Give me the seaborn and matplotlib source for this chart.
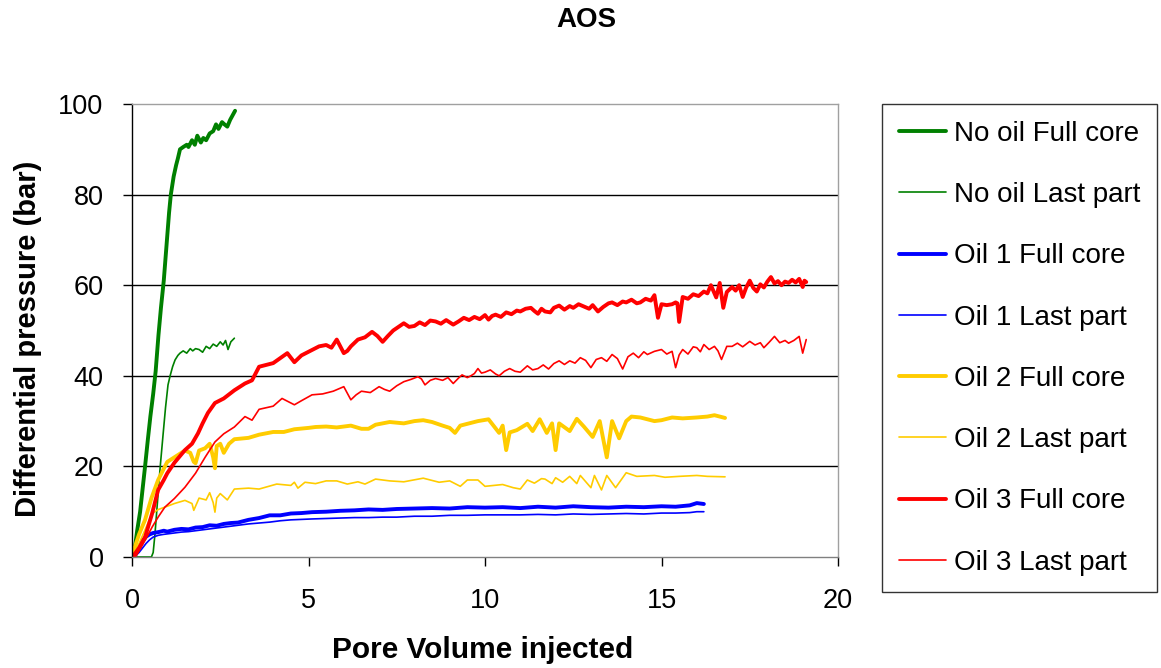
import matplotlib
matplotlib.use("Agg")
import matplotlib.pyplot as plt
import seaborn as sns
import pandas as pd

# ----------- DATA --------------------------------------------

# No oil, full core / last part
no_oil_full_x = [0, 0.08, 0.15, 0.23, 0.3, 0.37, 0.45, 0.52, 0.6, 0.67, 0.75, 0.82, 0.9, 0.97,
                 1.05, 1.1, 1.18, 1.25, 1.3, 1.36, 1.45, 1.55, 1.6, 1.7, 1.78, 1.85, 1.95, 2.02,
                 2.1, 2.2, 2.3, 2.38, 2.45, 2.55, 2.62, 2.7, 2.78, 2.85, 2.92]
no_oil_full_y = [0, 2, 6, 10, 15, 20, 26, 31, 36, 41, 49, 55, 61, 68,
                 76, 80, 84, 86.5, 88, 90, 90.5, 91, 90.5, 92, 91, 93, 91.5, 92.5,
                 92, 93.5, 94, 95.5, 94.5, 96, 95.5, 95, 96.5, 97.5, 98.5]

no_oil_last_x = [0, 0.2, 0.4, 0.55, 0.6, 0.65, 0.72, 0.8, 0.88, 0.95, 1.02, 1.08, 1.15, 1.22,
                 1.3, 1.36, 1.45, 1.55, 1.65, 1.72, 1.8, 1.9, 2.0, 2.1, 2.2, 2.3, 2.4, 2.5,
                 2.58, 2.65, 2.72, 2.8, 2.9]
no_oil_last_y = [0, 0, 0, 0, 1, 5, 12, 20, 27, 33, 38, 40, 42, 43.5,
                 44.5, 45, 45.5, 45, 46, 45.5, 46, 45.8, 45.2, 46.5, 46, 47, 46.5, 47.5,
                 46.8, 47.8, 45.8, 47.5, 48.3]

# Oil 1
oil1_x = [0, 0.1, 0.2, 0.3, 0.4, 0.5, 0.6, 0.75, 0.9, 1.0, 1.2, 1.4, 1.6, 1.8, 2.0, 2.2,
          2.4, 2.6, 2.8, 3.0, 3.3, 3.6, 3.9, 4.2, 4.5, 4.8, 5.1, 5.5, 5.9, 6.3, 6.7, 7.1,
          7.5, 8.0, 8.5, 9.0, 9.5, 10.0, 10.5, 11.0, 11.5, 12.0, 12.5, 13.0, 13.5, 14.0,
          14.5, 15.0, 15.4, 15.8, 16.0, 16.2]
oil1_full_y = [0, 0.5, 2, 3.5, 4.5, 5, 5.3, 5.5, 5.8, 5.6, 6, 6.2, 6.1, 6.5, 6.6, 7,
               6.9, 7.3, 7.5, 7.6, 8.2, 8.6, 9.2, 9.2, 9.6, 9.7, 9.9, 10, 10.2, 10.3, 10.5, 10.4,
               10.6, 10.7, 10.8, 10.7, 11, 10.9, 11, 10.8, 11.1, 10.9, 11.2, 11.0, 10.9, 11.1,
               11.0, 11.2, 11.1, 11.4, 11.9, 11.7]
oil1_last_y = [0, 0.3, 1, 2, 3, 3.8, 4.4, 4.8, 5.0, 5.1, 5.3, 5.5, 5.6, 5.8, 6, 6.2,
               6.4, 6.6, 6.8, 7, 7.3, 7.5, 7.7, 8.0, 8.2, 8.3, 8.4, 8.5, 8.6, 8.7, 8.7, 8.8,
               8.8, 9.0, 9.0, 9.2, 9.2, 9.3, 9.3, 9.3, 9.4, 9.3, 9.5, 9.4, 9.5, 9.6,
               9.5, 9.7, 9.7, 9.8, 10.0, 10.0]

# Oil 2
oil2_full_x = [0, 0.08, 0.2, 0.37, 0.55, 0.74, 0.9, 1.0, 1.2, 1.5, 1.65, 1.75, 1.8, 1.9,
               2.07, 2.2, 2.3, 2.35, 2.4, 2.5, 2.6, 2.75, 2.9, 3.3, 3.6, 4.0, 4.3, 4.6, 5.0,
               5.2, 5.5, 5.8, 6.2, 6.5, 6.7, 6.9, 7.3, 7.7, 8.0, 8.25, 8.5, 8.8, 9.0, 9.15,
               9.3, 9.5, 9.8, 10.1, 10.4, 10.5, 10.6, 10.7, 10.9, 11.2, 11.35, 11.55, 11.75,
               11.9, 12.0, 12.1, 12.4, 12.6, 12.8, 13.05, 13.25, 13.45, 13.6, 13.8, 14.0,
               14.15, 14.4, 14.8, 15.0, 15.3, 15.6, 16.0, 16.3, 16.5, 16.8]
oil2_full_y = [0, 2.2, 5, 8.2, 13, 17, 19.5, 21, 22, 23.5, 23, 21, 20.7, 23.5,
               24, 25, 22, 19.6, 24.5, 25, 23, 25, 26, 26.3, 27, 27.6, 27.6, 28.2, 28.5,
               28.7, 28.8, 28.6, 29, 28.3, 28.3, 29.2, 29.8, 29.5, 30, 30.2, 29.8, 29, 28.5, 27.4,
               29, 29.4, 30, 30.4, 27.4, 29, 23.6, 27.5, 28, 29.4, 27.8, 30.4, 27.4,
               29.5, 23.6, 29.5, 27.8, 30.5, 28.8, 26.5, 30, 22, 30, 26.2, 30,
               31, 30.8, 30, 30.2, 30.8, 30.6, 30.8, 31, 31.3, 30.7]

oil2_last_x = [0, 0.08, 0.2, 0.37, 0.57, 0.75, 0.93, 1.2, 1.5, 1.7, 1.75, 1.9, 2.1, 2.2,
               2.3, 2.35, 2.4, 2.5, 2.7, 2.9, 3.3, 3.6, 4.1, 4.5, 4.6, 4.7, 4.9, 5.2, 5.5,
               5.8, 6.1, 6.4, 6.6, 6.9, 7.3, 7.7, 8.25, 8.7, 9.0, 9.3, 9.5, 9.8, 10.0, 10.5,
               10.8, 11.0, 11.2, 11.4, 11.6, 11.7, 11.9, 12.0, 12.2, 12.4, 12.6, 12.7, 13.0,
               13.1, 13.3, 13.45, 13.7, 13.9, 14.0, 14.3, 14.8, 15.1, 15.5, 16.0, 16.3, 16.8]
oil2_last_y = [0, 1, 3, 6, 9.6, 10.5, 11, 11.8, 12.5, 11.8, 10.3, 13, 12.6, 14.2,
               12, 9.9, 13, 14, 12.6, 15, 15.2, 15, 16.1, 15.8, 16.5, 15.2, 16.5, 16.2, 16.8,
               16.8, 16.1, 16.6, 16.1, 17.2, 16.8, 16.6, 17.4, 16.5, 16.8, 15.6, 17, 17, 15.6, 16,
               15.3, 15, 17, 16.3, 17.3, 17.2, 16.2, 17.5, 16.5, 17.8, 16.2, 18, 15.3,
               18, 14.8, 18, 15.3, 17.5, 18.6, 17.8, 18, 17.6, 17.8, 18, 17.8, 17.7]

# Oil 3
oil3_full_x = [0, 0.08, 0.2, 0.37, 0.57, 0.74, 0.9, 1.0, 1.2, 1.5, 1.7, 1.87, 2.0, 2.15,
               2.35, 2.6, 2.9, 3.2, 3.4, 3.6, 4.0, 4.4, 4.6, 4.8,
               5.1, 5.3, 5.5, 5.65, 5.8, 6.0, 6.1, 6.2, 6.4, 6.6,
               6.8, 6.95, 7.1, 7.25, 7.4, 7.55, 7.7, 7.85, 8.0, 8.15,
               8.3, 8.45, 8.6, 8.75, 8.9, 9.1, 9.25, 9.4, 9.55, 9.7,
               9.85, 10.0, 10.1, 10.2, 10.3, 10.45, 10.6, 10.75, 10.9, 11.0,
               11.15, 11.3, 11.4, 11.5, 11.6, 11.7, 11.85, 11.95, 12.1, 12.25,
               12.4, 12.5, 12.65, 12.8, 12.95, 13.05, 13.2, 13.35, 13.5, 13.6,
               13.75, 13.9, 14.0, 14.15, 14.3, 14.4, 14.55, 14.7, 14.8, 14.9,
               15.0, 15.15, 15.3, 15.4, 15.45, 15.5, 15.6, 15.75, 15.9, 16.05,
               16.2, 16.3, 16.4, 16.55, 16.65, 16.75, 16.85, 17.0, 17.1, 17.2,
               17.3, 17.4, 17.5, 17.6, 17.7, 17.8, 17.9, 18.0, 18.1, 18.2,
               18.3, 18.4, 18.5, 18.6, 18.7, 18.8, 18.9, 19.0, 19.05, 19.1]
oil3_full_y = [0, 0.7, 2, 4.4, 9.6, 14.8, 17, 18.5, 20.8, 23.6, 25, 27.3, 29.5, 31.8,
               34, 35, 36.8, 38.3, 39, 42, 42.8, 45, 43, 44.5,
               45.7, 46.5, 46.8, 46.2, 48, 45, 45.5, 46.5, 48, 48.5,
               49.7, 48.8, 47.5, 48.8, 50, 50.8, 51.6, 50.8, 51, 51.8,
               51.2, 52.2, 52, 51.5, 52.3, 51.3, 52, 52.8, 52.3, 53,
               52.5, 53.4, 52.4, 53.2, 53.5, 53, 54, 53.6, 54.4, 54.2,
               54.8, 55, 54.3, 53.7, 54.8, 54.2, 54, 55, 55.5, 54.6,
               55.4, 55, 55.8, 55.3, 54.8, 55.6, 54.2, 55.2, 56, 56.2,
               55.6, 56.4, 56.2, 56.8, 56, 56.2, 57, 56.6, 57.8, 52.8,
               55.8, 55.6, 55.8, 56.2, 56, 51.9, 57.4, 57, 58, 57.6,
               58.6, 58.2, 60, 57.3, 60.5, 55, 58.5, 59.6, 58.8, 60,
               57.4, 59.5, 61, 59.4, 58.6, 60.2, 59.5, 60.8, 61.8, 60.4,
               60.9, 60, 60.8, 60.5, 61.2, 60.6, 61.4, 59.6, 61, 60.7]

oil3_last_x = [0, 0.1, 0.37, 0.57, 0.74, 0.93, 1.2, 1.5, 1.8, 2.07, 2.35, 2.6, 2.9, 3.2,
               3.4, 3.6, 4.0, 4.25, 4.6,
               4.8, 5.1, 5.4, 5.7, 6.0, 6.2, 6.35, 6.5, 6.75, 7.0,
               7.15, 7.3, 7.5, 7.7, 7.9, 8.1, 8.2, 8.3, 8.45, 8.6,
               8.8, 8.95, 9.1, 9.25, 9.35, 9.5, 9.6, 9.7, 9.8, 9.9,
               10.0, 10.15, 10.3, 10.4, 10.55, 10.7, 10.85, 11.0, 11.1, 11.2,
               11.35, 11.5, 11.65, 11.8, 11.95, 12.1, 12.25, 12.4, 12.55, 12.7,
               12.85, 13.0, 13.15, 13.3, 13.45, 13.6, 13.75, 13.9, 14.05, 14.2,
               14.35, 14.5, 14.6, 14.8, 15.0, 15.15, 15.3, 15.4, 15.5, 15.6,
               15.75, 15.9, 16.0, 16.1, 16.2, 16.35, 16.5, 16.6, 16.7, 16.85,
               17.0, 17.15, 17.3, 17.5, 17.65, 17.8, 17.9, 18.05, 18.2, 18.35,
               18.5, 18.6, 18.75, 18.9, 19.0, 19.1]
oil3_last_y = [0, 0, 3.7, 6.6, 8.8, 11, 12.9, 15.4, 18.5, 22, 25.4, 27.2, 28.7, 31,
               30.2, 32.6, 33.3, 35, 33.6,
               34.5, 35.8, 36, 36.6, 37.6, 34.7, 35.8, 36.6, 36.3, 37.6,
               37, 36.6, 37.8, 38.7, 39.2, 39.8, 39.3, 38, 39, 39.4,
               39, 39.6, 38.3, 39.5, 40.2, 39.6, 40, 40.5, 41.6, 40.6,
               40.8, 41.3, 40.4, 40, 41, 41.6, 41, 40.8, 41.5, 42.2,
               41.3, 41.6, 42.4, 41.5, 42.7, 43.3, 42.5, 43.3, 42.8, 44,
               43.4, 41.8, 43.6, 44, 43.2, 44.7, 43.8, 41.5, 44.2, 45,
               44, 45.3, 44.7, 45.4, 45.8, 44.8, 45.4, 41.8, 44.6, 45.8,
               44.8, 46.4, 46.2, 45.3, 46.9, 45.8, 46.5, 45.5, 43.6, 46.5,
               46.5, 47.2, 46.4, 47.6, 46.8, 47.3, 46.2, 47.4, 48.7, 47.3,
               47.8, 47.2, 47.8, 48.7, 45, 48]

series = [
    ("No oil Full core", no_oil_full_x, no_oil_full_y, "#008000", 2.8),
    ("No oil Last part", no_oil_last_x, no_oil_last_y, "#008000", 1.2),
    ("Oil 1 Full core", oil1_x, oil1_full_y, "#0000FF", 2.8),
    ("Oil 1 Last part", oil1_x, oil1_last_y, "#0000FF", 1.2),
    ("Oil 2 Full core", oil2_full_x, oil2_full_y, "#FFCC00", 2.8),
    ("Oil 2 Last part", oil2_last_x, oil2_last_y, "#FFCC00", 1.2),
    ("Oil 3 Full core", oil3_full_x, oil3_full_y, "#FF0000", 2.8),
    ("Oil 3 Last part", oil3_last_x, oil3_last_y, "#FF0000", 1.2),
]

# ----------- PLOT ------------

sns.set_theme(style="white")
plt.rcParams['font.family'] = ['Liberation Sans', 'DejaVu Sans']
plt.rcParams['text.color'] = 'black'
plt.rcParams['axes.labelcolor'] = 'black'

fig = plt.figure(figsize=(11.61, 6.68), dpi=100)
ax = fig.add_axes([132 / 1161, 1 - 557 / 668, 706 / 1161, 453 / 668])

for name, xs, ys, col, lw in series:
    df = pd.DataFrame({'x': xs, 'y': ys})
    sns.lineplot(data=df, x='x', y='y', ax=ax, color=col, linewidth=lw,
                 sort=False, estimator=None, label=name)

ax.set_xlim(0, 20)
ax.set_ylim(0, 100)
ax.set_xticks([0, 5, 10, 15, 20])
ax.set_yticks([0, 20, 40, 60, 80, 100])
for yv in [20, 40, 60, 80]:
    ax.axhline(yv, color='black', linewidth=1, zorder=0)

ax.tick_params(axis='both', labelsize=19.5, length=6.5, width=1, direction='out',
               colors='black', left=True, bottom=True)
ax.tick_params(axis='y', pad=14)
ax.tick_params(axis='x', pad=16)
ax.spines['left'].set_color('black')
ax.spines['bottom'].set_color('#808080')
ax.spines['top'].set_color('#a0a0a0')
ax.spines['right'].set_color('#a0a0a0')
for s in ax.spines.values():
    s.set_linewidth(1)

ax.set_xlabel('')
ax.set_ylabel('')
fig.text(483 / 1161, 1 - 650 / 668, 'Pore Volume injected', ha='center', va='center',
         fontsize=21.5, fontweight='bold')
fig.text(28 / 1161, 1 - 339 / 668, 'Differential pressure (bar)', ha='center', va='center',
         rotation=90, fontsize=21, fontweight='bold')
fig.text(586 / 1161, 1 - 20 / 668, 'AOS', ha='center', va='center',
         fontsize=20, fontweight='bold')

handles, labels = ax.get_legend_handles_labels()
ax.get_legend().remove()
leg = fig.legend(handles, labels, loc='upper left', bbox_to_anchor=(882 / 1161, 1 - 104 / 668),
                 bbox_transform=fig.transFigure, fontsize=20, frameon=True, fancybox=False,
                 edgecolor='black', labelspacing=1.27, handlelength=1.7, handletextpad=0.3,
                 borderpad=0.6, borderaxespad=0)
leg.get_frame().set_linewidth(1)

fig.savefig('out.png', dpi=100)
